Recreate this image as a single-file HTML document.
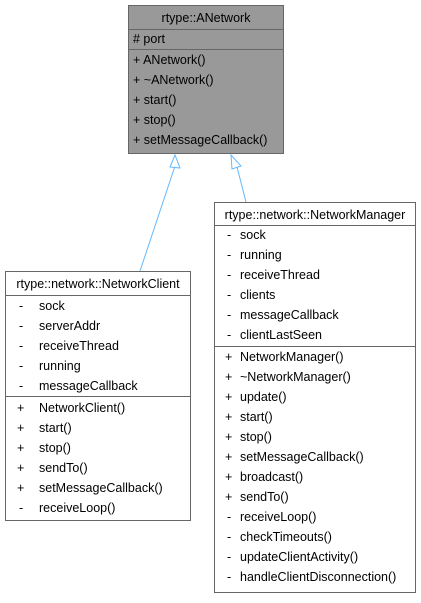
<!DOCTYPE html><html><head><style>body{margin:0;background:#fff}svg text{font-family:"Liberation Sans",sans-serif;font-size:12.5px;fill:#000}</style></head><body>
<svg width="421" height="598" xmlns="http://www.w3.org/2000/svg">
<g stroke="#63b8ff" fill="none" stroke-width="1">
<line x1="140" y1="271" x2="175" y2="166"/><polygon points="175,155 170,167 180,168" fill="#fff"/>
<line x1="246" y1="202" x2="237" y2="167"/><polygon points="231,155 232,169 241,166" fill="#fff"/>
</g>
<rect x="128.5" y="5.5" width="155" height="148" fill="#999" stroke="#666"/>
<line x1="128" y1="29.5" x2="283" y2="29.5" stroke="#666"/>
<line x1="128" y1="49.5" x2="283" y2="49.5" stroke="#666"/>
<text x="206" y="22" text-anchor="middle">rtype::ANetwork</text>
<text x="133" y="43"># port</text>
<text x="133" y="64">+ ANetwork()</text>
<text x="133" y="84">+ ~ANetwork()</text>
<text x="133" y="104">+ start()</text>
<text x="133" y="124">+ stop()</text>
<text x="133" y="144">+ setMessageCallback()</text>
<rect x="5.5" y="271.5" width="185" height="249" fill="#fff" stroke="#666"/>
<line x1="5" y1="295.5" x2="190" y2="295.5" stroke="#666"/>
<line x1="5" y1="396.5" x2="190" y2="396.5" stroke="#666"/>
<text x="98" y="288" text-anchor="middle">rtype::network::NetworkClient</text>
<g><text x="19" y="310">-</text><text x="39" y="310">sock</text>
<text x="19" y="330">-</text><text x="39" y="330">serverAddr</text>
<text x="19" y="350">-</text><text x="39" y="350">receiveThread</text>
<text x="19" y="370">-</text><text x="39" y="370">running</text>
<text x="19" y="390">-</text><text x="39" y="390">messageCallback</text>
<text x="17" y="412">+</text><text x="39" y="412">NetworkClient()</text>
<text x="17" y="432">+</text><text x="39" y="432">start()</text>
<text x="17" y="452">+</text><text x="39" y="452">stop()</text>
<text x="17" y="472">+</text><text x="39" y="472">sendTo()</text>
<text x="17" y="492">+</text><text x="39" y="492">setMessageCallback()</text>
<text x="19" y="512">-</text><text x="39" y="512">receiveLoop()</text></g>
<rect x="214.5" y="202.5" width="201" height="390" fill="#fff" stroke="#666"/>
<line x1="214" y1="225.5" x2="415" y2="225.5" stroke="#666"/>
<line x1="214" y1="346.5" x2="415" y2="346.5" stroke="#666"/>
<text x="315" y="219" text-anchor="middle">rtype::network::NetworkManager</text>
<g><text x="227" y="239">-</text><text x="240" y="239">sock</text>
<text x="227" y="259">-</text><text x="240" y="259">running</text>
<text x="227" y="279">-</text><text x="240" y="279">receiveThread</text>
<text x="227" y="299">-</text><text x="240" y="299">clients</text>
<text x="227" y="319">-</text><text x="240" y="319">messageCallback</text>
<text x="227" y="339">-</text><text x="240" y="339">clientLastSeen</text>
<text x="225" y="361">+</text><text x="240" y="361">NetworkManager()</text>
<text x="225" y="381">+</text><text x="240" y="381">~NetworkManager()</text>
<text x="225" y="401">+</text><text x="240" y="401">update()</text>
<text x="225" y="421">+</text><text x="240" y="421">start()</text>
<text x="225" y="441">+</text><text x="240" y="441">stop()</text>
<text x="225" y="461">+</text><text x="240" y="461">setMessageCallback()</text>
<text x="225" y="481">+</text><text x="240" y="481">broadcast()</text>
<text x="225" y="501">+</text><text x="240" y="501">sendTo()</text>
<text x="227" y="521">-</text><text x="240" y="521">receiveLoop()</text>
<text x="227" y="541">-</text><text x="240" y="541">checkTimeouts()</text>
<text x="227" y="561">-</text><text x="240" y="561">updateClientActivity()</text>
<text x="227" y="581">-</text><text x="240" y="581">handleClientDisconnection()</text></g>
</svg></body></html>
